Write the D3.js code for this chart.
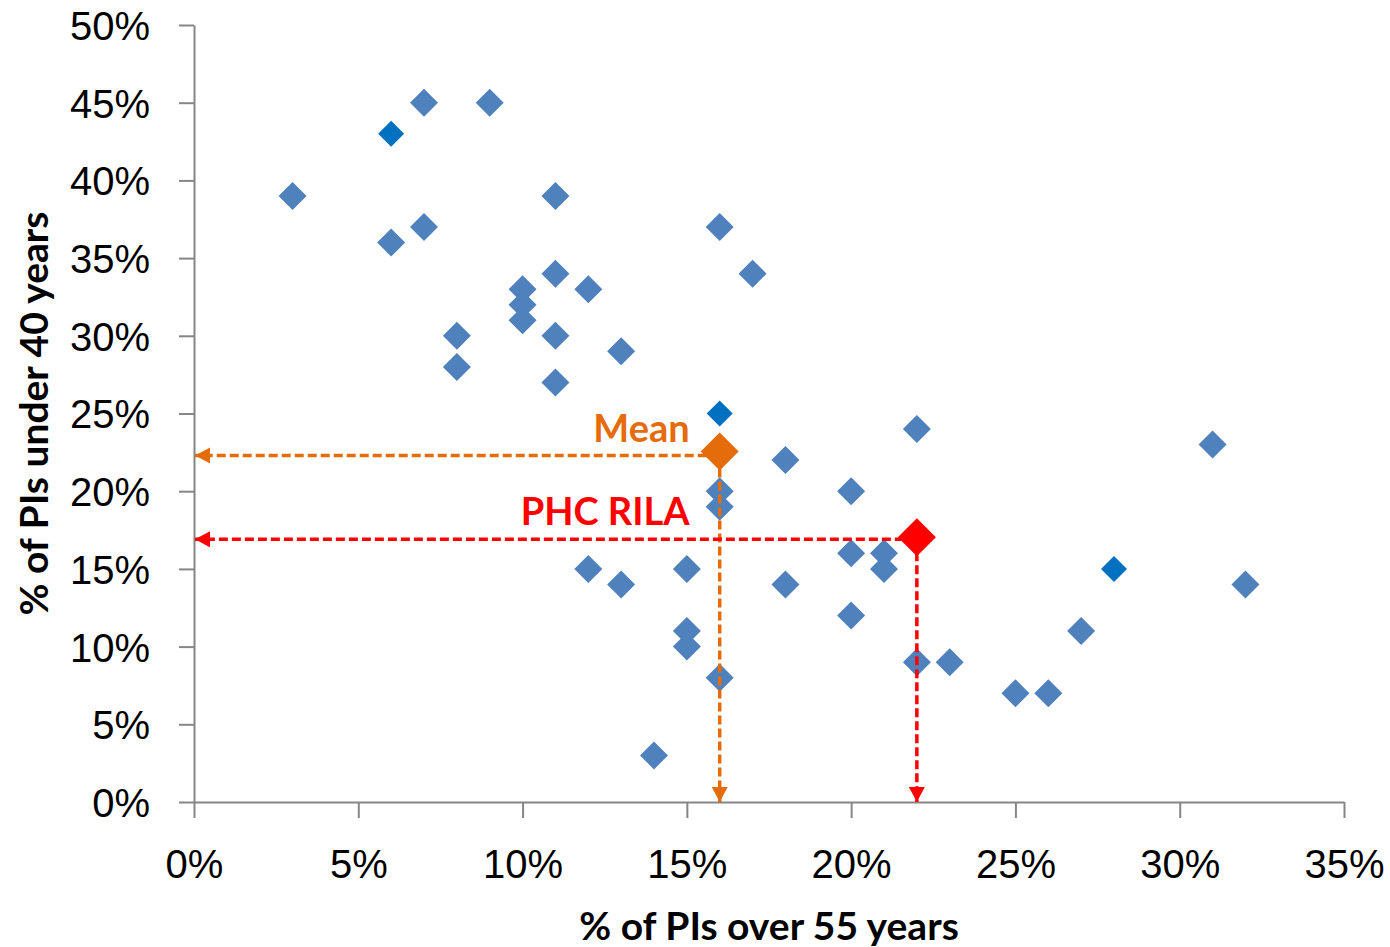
<!DOCTYPE html>
<html>
<head>
<meta charset="utf-8">
<script src="https://cdn.jsdelivr.net/npm/d3@7"></script>
<style>
    body { margin: 0; background: #fff; }
    svg { font-family: Lato, "Open Sans", sans-serif; }
</style>
</head>
<body>
<svg id="scatter-chart"></svg>
<script>
// Share of PIs over 55 years (x) and under 40 years (y), in percent
const over55 = [3, 7, 9, 6, 7, 11, 16, 17, 11, 10, 12, 10, 10, 8, 11, 13, 8, 11, 22, 31, 18, 20, 16, 16,
    20, 21, 21, 12, 15, 13, 18, 32, 20, 15, 27, 15, 22, 23, 16, 25, 26, 14];
const under40 = [39, 45, 45, 36, 37, 39, 37, 34, 34, 33, 33, 32, 31, 30, 30, 29, 28, 27, 24, 23, 22, 20, 20, 19,
    16, 16, 15, 15, 15, 14, 14, 14, 12, 11, 11, 10, 9, 9, 8, 7, 7, 3];

// Points drawn in the darker blue
const over55_dark = [6, 16, 28];
const under40_dark = [43, 25, 15];

// Highlighted points
const mean_point = { name: "Mean", x: 16, y: 22.3 };
const rila_point = { name: "PHC RILA", x: 22, y: 16.9 };

// Tick values
const x_ticks = [0, 5, 10, 15, 20, 25, 30, 35];
const y_ticks = [0, 5, 10, 15, 20, 25, 30, 35, 40, 45, 50];

const x_title = "% of PIs over 55 years";
const y_title = "% of PIs under 40 years";

// Chart dimensions
const width = 1390, height = 947;
const margins = { top: 25, right: 46, bottom: 145, left: 194 };

const x_scale = d3.scaleLinear()
    .domain([0, 35])
    .range([margins.left, width - margins.right]);
const y_scale = d3.scaleLinear()
    .domain([0, 50])
    .range([height - margins.bottom, margins.top]);

const svg = d3.select("#scatter-chart")
    .attr("width", width)
    .attr("height", height);

// Arrow markers for the dashed guide lines
const defs = svg.append("defs");
[["arrow-orange", "#E46C0A"], ["arrow-red", "#FF0000"]].forEach(function (m) {
    defs.append("marker")
        .attr("id", m[0])
        .attr("markerUnits", "userSpaceOnUse")
        .attr("viewBox", "0 0 15 16")
        .attr("refX", 15)
        .attr("refY", 8)
        .attr("markerWidth", 15)
        .attr("markerHeight", 16)
        .attr("orient", "auto")
        .append("path")
        .attr("d", "M0,0L15,8L0,16Z")
        .attr("fill", m[1]);
});

// X axis
const x_axis = svg.append("g")
    .attr("transform", "translate(0," + y_scale(0) + ")")
    .call(d3.axisBottom(x_scale).tickValues(x_ticks).tickSize(16).tickSizeOuter(0)
        .tickFormat(function (d) { return d + "%"; }));
x_axis.select(".domain").attr("stroke", "#868686").attr("stroke-width", 2);
x_axis.selectAll(".tick line").attr("stroke", "#868686").attr("stroke-width", 2);
x_axis.selectAll(".tick text")
    .attr("y", 48)
    .attr("dy", "0.71em")
    .attr("font-size", 40)
    .attr("fill", "#000");

// Y axis
const y_axis = svg.append("g")
    .attr("transform", "translate(" + x_scale(0) + ",0)")
    .call(d3.axisLeft(y_scale).tickValues(y_ticks).tickSize(15).tickSizeOuter(0)
        .tickFormat(function (d) { return d + "%"; }));
y_axis.select(".domain").attr("stroke", "#868686").attr("stroke-width", 2);
y_axis.selectAll(".tick line").attr("stroke", "#868686").attr("stroke-width", 2);
y_axis.selectAll(".tick text")
    .attr("x", -44)
    .attr("dy", "0.36em")
    .attr("font-size", 40)
    .attr("fill", "#000");

// Axis titles
svg.append("text")
    .attr("x", (x_scale(0) + x_scale(35)) / 2)
    .attr("y", height - 7)
    .attr("text-anchor", "middle")
    .attr("font-size", 39)
    .attr("font-weight", "bold")
    .text(x_title);

svg.append("text")
    .attr("transform", "translate(48," + (y_scale(0) + y_scale(50)) / 2 + ") rotate(-90)")
    .attr("text-anchor", "middle")
    .attr("font-size", 39)
    .attr("font-weight", "bold")
    .text(y_title);

// Diamond shape helper
function diamond(cx, cy, r) {
    return "M" + cx + "," + (cy - r) + "L" + (cx + r) + "," + cy + "L" + cx + "," + (cy + r) + "L" + (cx - r) + "," + cy + "Z";
}

// Regular points
svg.append("g")
    .selectAll("path")
    .data(d3.range(over55.length))
    .enter().append("path")
    .attr("d", function (i) { return diamond(x_scale(over55[i]), y_scale(under40[i]), 14); })
    .attr("fill", "#4F81BD");

// Darker points
svg.append("g")
    .selectAll("path")
    .data(d3.range(over55_dark.length))
    .enter().append("path")
    .attr("d", function (i) { return diamond(x_scale(over55_dark[i]), y_scale(under40_dark[i]), 13); })
    .attr("fill", "#0070C0");

// Dashed guide lines with arrows
function guide(p, color, marker) {
    const g = svg.append("g");
    g.append("line")
        .attr("x1", x_scale(p.x)).attr("y1", y_scale(p.y))
        .attr("x2", x_scale(0) + 1).attr("y2", y_scale(p.y))
        .attr("stroke", color).attr("stroke-width", 3.5)
        .attr("stroke-dasharray", "9,4")
        .attr("marker-end", "url(#" + marker + ")");
    g.append("line")
        .attr("x1", x_scale(p.x)).attr("y1", y_scale(p.y))
        .attr("x2", x_scale(p.x)).attr("y2", y_scale(0))
        .attr("stroke", color).attr("stroke-width", 3.5)
        .attr("stroke-dasharray", "9,4")
        .attr("marker-end", "url(#" + marker + ")");
}
guide(mean_point, "#E46C0A", "arrow-orange");
guide(rila_point, "#FF0000", "arrow-red");

// Highlighted diamonds
svg.append("path")
    .attr("d", diamond(x_scale(mean_point.x), y_scale(mean_point.y) - 4, 19))
    .attr("fill", "#E46C0A");
svg.append("path")
    .attr("d", diamond(x_scale(rila_point.x), y_scale(rila_point.y) - 2, 19))
    .attr("fill", "#FF0000");

// Labels
svg.append("text")
    .attr("x", x_scale(mean_point.x) - 30)
    .attr("y", y_scale(mean_point.y) - 13)
    .attr("text-anchor", "end")
    .attr("font-size", 38)
    .attr("font-weight", "bold")
    .attr("fill", "#E46C0A")
    .text(mean_point.name);
svg.append("text")
    .attr("x", x_scale(mean_point.x) - 30)
    .attr("y", y_scale(rila_point.y) - 14)
    .attr("text-anchor", "end")
    .attr("font-size", 38)
    .attr("font-weight", "bold")
    .attr("fill", "#FF0000")
    .text(rila_point.name);
</script>
</body>
</html>
